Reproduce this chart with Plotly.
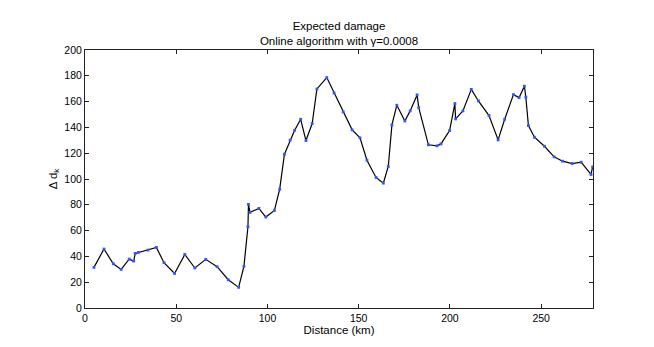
import plotly.graph_objects as go

distance_km = [4.9, 10.4, 15.5, 19.8, 24.2, 26.7, 27.5, 29.3, 34.5, 39.1, 43.3, 49.1,
               54.7, 60.2, 66.2, 72.4, 78.5, 84.2, 87.1, 89.3, 89.6, 90.4, 95.3, 99.1,
               103.8, 106.7, 109.3, 112.4, 114.9, 118.2, 121.1, 124.5, 127.1, 132.5,
               136.5, 141.5, 146.4, 150.7, 154.5, 159.5, 163.5, 166.2, 168.2, 170.9,
               175.3, 178.2, 182.0, 182.9, 188.2, 192.9, 195.1, 199.8, 202.7, 203.1,
               207.1, 211.7, 215.6, 221.4, 226.4, 230.0, 234.8, 237.9, 240.8, 241.6,
               243.0, 246.3, 251.8, 257.1, 261.7, 267.0, 271.9, 277.3, 278.2]
delta_dk = [31.5, 45.7, 34.3, 29.9, 37.9, 36.4, 42.3, 43.1, 44.9, 47.0, 35.1, 26.8,
            41.5, 31.0, 37.7, 32.0, 21.9, 16.0, 32.3, 63.0, 80.3, 74.1, 77.2, 70.5,
            75.6, 92.1, 119.2, 130.1, 137.8, 146.3, 129.8, 143.0, 169.8, 178.6,
            166.7, 152.0, 138.1, 131.9, 114.6, 101.2, 96.8, 109.7, 141.9, 157.2,
            145.0, 152.8, 165.2, 155.4, 126.5, 125.7, 127.2, 137.5, 158.5, 146.6,
            152.8, 169.5, 160.5, 149.2, 130.3, 146.3, 165.4, 163.1, 171.9, 163.4,
            141.4, 132.4, 125.4, 117.2, 113.8, 112.0, 113.0, 103.5, 109.4]

x_ticks = [0, 50, 100, 150, 200, 250]
y_ticks = [0, 20, 40, 60, 80, 100, 120, 140, 160, 180, 200]

fig = go.Figure()
fig.add_trace(go.Scatter(
    x=distance_km, y=delta_dk, mode="lines+markers",
    line=dict(color="black", width=1.2),
    marker=dict(color="#3355ff", size=2.8, symbol="square"),
    showlegend=False,
))

font = "Liberation Sans, Arial, Helvetica, sans-serif"
axis_common = dict(
    showline=True, linecolor="#222222", linewidth=1, mirror="allticks",
    ticks="inside", ticklen=4, tickcolor="#222222", showgrid=False, zeroline=False,
    tickfont=dict(family=font, size=10.5, color="black"),
)
W, H = 646, 339
fig.update_layout(
    width=W, height=H,
    margin=dict(l=77, r=61, t=42, b=39),
    paper_bgcolor="white", plot_bgcolor="white",
    title=dict(text="Expected damage<br>Online algorithm with γ=0.0008",
               x=(77 + 585) / 2 / W, xanchor="center", y=1 - 22 / H, yanchor="middle",
               font=dict(family=font, size=11.5, color="black")),
    xaxis=dict(range=[0, 278.4], tickvals=x_ticks,
               title=dict(text="Distance (km)", standoff=1,
                          font=dict(family=font, size=11.5, color="black")),
               **axis_common),
    yaxis=dict(range=[0, 200], tickvals=y_ticks,
               title=dict(text="Δ d<sub>k</sub>", standoff=4,
                          font=dict(family=font, size=11.5, color="black")),
               **axis_common),
)
fig.write_html("out.html")
